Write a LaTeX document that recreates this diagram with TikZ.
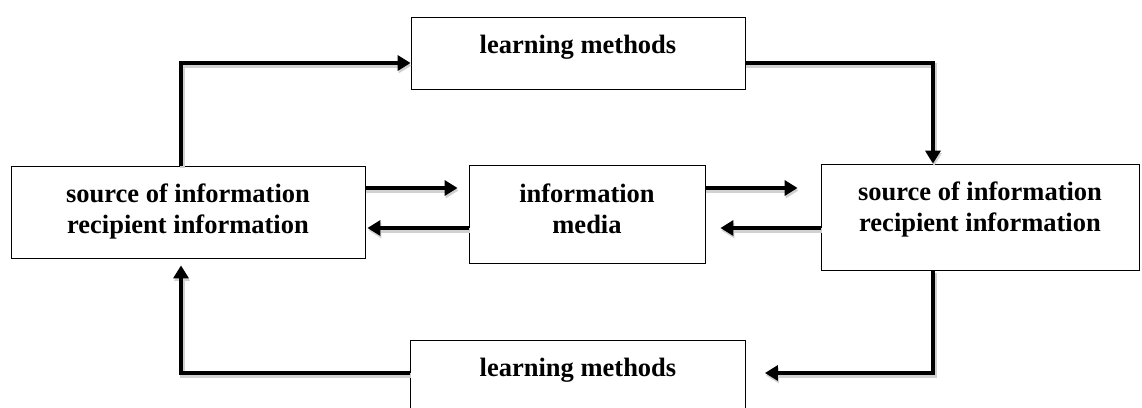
\documentclass[tikz,border=0pt]{standalone}
\usepackage{fontspec}
\setmainfont{Liberation Serif}
\usetikzlibrary{arrows.meta}
\usetikzlibrary{positioning}

\tikzset{
  box/.style={draw, line width=0.8pt, fill=white, align=center, inner sep=0pt,
    font=\bfseries\fontsize{26.5}{31}\selectfont},
  flow/.style={line width=4.5pt, -{Triangle[length=13pt,width=15pt]},
    preaction={draw=black!18, line width=5pt, transform canvas={shift={(1pt,-2.5pt)}}}}
}

\begin{document}
\begin{tikzpicture}[x=1pt,y=-1pt]
\useasboundingbox (0,0) rectangle (1142,407);

\node[box,text height=18pt,text depth=18pt,minimum width=334pt,minimum height=72pt] (lmtop) at (578,53) {learning methods};
\node[box,text height=48pt,text depth=6pt,minimum width=354pt,minimum height=92pt] (srcL) at (188,212) {source of information\\recipient information};
\node[box,text height=44pt,text depth=6pt,minimum width=236pt,minimum height=98pt] (media) at (587,214) {information\\media};
\node[box,text height=34pt,text depth=6pt,minimum width=318pt,minimum height=106pt] (srcR) at (980,217) {source of information\\recipient information};
\node[box,text height=18pt,text depth=18pt,minimum width=335pt,minimum height=72pt] (lmbot) at (578,376) {learning methods};

\draw[flow] ([xshift=-7pt]srcL.north) |- ([yshift=-10pt]lmtop.west);
\draw[flow] ([yshift=-10pt]lmtop.east) -| ([xshift=-47pt]srcR.north);
\draw[flow] ([xshift=-47pt]srcR.south) |- ([xshift=19pt,yshift=3pt]lmbot.east);
\draw[flow] ([yshift=3pt]lmbot.west) -| ([xshift=-7pt,yshift=-7pt]srcL.south);

\draw[flow] (srcL.east |- 0,188) -- ([xshift=-11pt]media.west |- 0,188);
\draw[flow] (media.west |- 0,228) -- ([xshift=2pt]srcL.east |- 0,228);
\draw[flow] (media.east |- 0,188) -- ([xshift=-23pt]srcR.west |- 0,188);
\draw[flow] (srcR.west |- 0,228) -- ([xshift=15pt]media.east |- 0,228);

\end{tikzpicture}
\end{document}
